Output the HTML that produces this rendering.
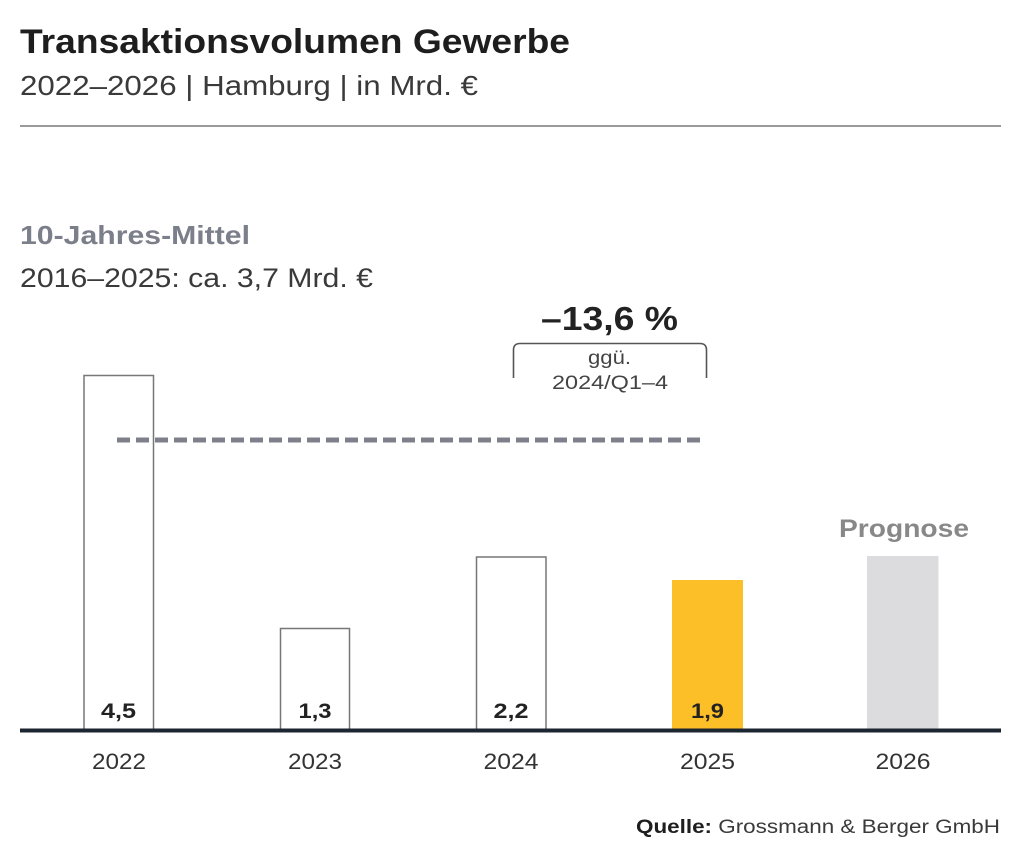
<!DOCTYPE html>
<html>
<head>
<meta charset="utf-8">
<style>
html,body{margin:0;padding:0;background:#fff;}
svg{display:block;}
text{font-family:"Liberation Sans","DejaVu Sans",sans-serif;}
</style>
</head>
<body>
<svg width="1024" height="853" viewBox="0 0 1024 853" xmlns="http://www.w3.org/2000/svg">
  <rect x="0" y="0" width="1024" height="853" fill="#ffffff"/>
  <!-- Title -->
  <text x="20" y="53" font-size="34" font-weight="bold" fill="#1e1e1e" textLength="550" lengthAdjust="spacingAndGlyphs">Transaktionsvolumen Gewerbe</text>
  <text x="20" y="95" font-size="28" fill="#3a3a3a" textLength="458" lengthAdjust="spacingAndGlyphs">2022–2026 | Hamburg | in Mrd. €</text>
  <rect x="20" y="125" width="981" height="2" fill="#9a9a9a"/>

  <!-- 10-Jahres-Mittel -->
  <text x="20" y="244" font-size="26" font-weight="bold" fill="#7b7f89" textLength="230" lengthAdjust="spacingAndGlyphs">10-Jahres-Mittel</text>
  <text x="20" y="287" font-size="27" fill="#3a3a3a" textLength="353" lengthAdjust="spacingAndGlyphs">2016–2025: ca. 3,7 Mrd. €</text>

  <!-- change annotation -->
  <text x="541" y="330" font-size="33" font-weight="bold" fill="#222" textLength="137" lengthAdjust="spacingAndGlyphs">–13,6 %</text>
  <path d="M513.5,378 L513.5,350 Q513.5,343.5 520,343.5 L700,343.5 Q706.5,343.5 706.5,350 L706.5,378" fill="none" stroke="#555" stroke-width="1.6"/>
  <text x="588" y="364" font-size="19" fill="#444" textLength="43" lengthAdjust="spacingAndGlyphs">ggü.</text>
  <text x="552" y="389" font-size="19" fill="#444" textLength="116" lengthAdjust="spacingAndGlyphs">2024/Q1–4</text>

  <!-- Bars -->
  <rect x="84" y="375.5" width="69.5" height="355" fill="#fff" stroke="#777" stroke-width="1.5"/>
  <rect x="280.5" y="628.5" width="69" height="102" fill="#fff" stroke="#777" stroke-width="1.5"/>
  <rect x="476.5" y="557" width="69.5" height="174" fill="#fff" stroke="#777" stroke-width="1.5"/>
  <rect x="672" y="580" width="71" height="151" fill="#fcbf27"/>
  <rect x="867" y="556" width="71.5" height="175" fill="#dcdcde"/>

  <!-- dashed mean line -->
  <line x1="117" y1="440" x2="703" y2="440" stroke="#7d808a" stroke-width="5" stroke-dasharray="13 6" stroke-linecap="butt"/>

  <!-- Prognose -->
  <text x="839" y="537" font-size="25" font-weight="bold" fill="#888" textLength="130" lengthAdjust="spacingAndGlyphs">Prognose</text>

  <!-- axis -->
  <rect x="20" y="728.5" width="981" height="4" fill="#1c2630"/>

  <!-- value labels -->
  <g font-size="21" font-weight="bold" fill="#222" text-anchor="middle">
    <text x="118.5" y="718" textLength="35" lengthAdjust="spacingAndGlyphs">4,5</text>
    <text x="315" y="718" textLength="33" lengthAdjust="spacingAndGlyphs">1,3</text>
    <text x="511" y="718" textLength="35" lengthAdjust="spacingAndGlyphs">2,2</text>
    <text x="707.5" y="718" textLength="33" lengthAdjust="spacingAndGlyphs">1,9</text>
  </g>

  <!-- year labels -->
  <g font-size="22" fill="#333" text-anchor="middle">
    <text x="119" y="769" textLength="54" lengthAdjust="spacingAndGlyphs">2022</text>
    <text x="315" y="769" textLength="54" lengthAdjust="spacingAndGlyphs">2023</text>
    <text x="511" y="769" textLength="55" lengthAdjust="spacingAndGlyphs">2024</text>
    <text x="707.5" y="769" textLength="55" lengthAdjust="spacingAndGlyphs">2025</text>
    <text x="903" y="769" textLength="55" lengthAdjust="spacingAndGlyphs">2026</text>
  </g>

  <!-- source -->
  <text x="636" y="833" font-size="19" fill="#3a3a3a" textLength="364" lengthAdjust="spacingAndGlyphs"><tspan font-weight="bold" fill="#1e1e1e">Quelle:</tspan> Grossmann &amp; Berger GmbH</text>
</svg>
</body>
</html>
